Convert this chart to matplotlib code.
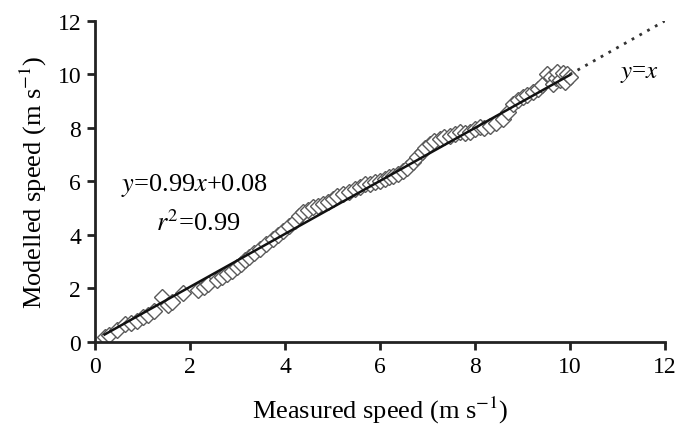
import numpy as np
import matplotlib.pyplot as plt

plt.rcParams["font.family"] = ["Liberation Serif", "DejaVu Serif"]
plt.rcParams["mathtext.fontset"] = "stix"

# measured vs modelled speed (m/s)
measured = [0.21, 0.30, 0.46, 0.63, 0.75, 0.88, 1.00, 1.12, 1.25, 1.41, 1.54, 1.62,
            1.85, 2.17, 2.30, 2.38, 2.57, 2.68, 2.78, 2.88, 2.99, 3.08, 3.16,
            3.25, 3.35, 3.47, 3.60, 3.75, 3.85, 3.96, 4.08, 4.21, 4.30, 4.38, 4.48,
            4.59, 4.70, 4.80, 4.90, 5.01, 5.10, 5.22, 5.35, 5.47, 5.58, 5.68, 5.80,
            5.90, 6.00, 6.10, 6.20, 6.27, 6.38, 6.48, 6.58, 6.69, 6.78, 6.88, 6.96,
            7.05, 7.15, 7.26, 7.36, 7.47, 7.58, 7.68, 7.80, 7.90, 8.00, 8.10, 8.20,
            8.32, 8.45, 8.59, 8.70, 8.80, 8.90, 9.01, 9.10, 9.22, 9.32, 9.42, 9.52,
            9.60, 9.64, 9.70, 9.73, 9.80, 9.85, 9.90, 9.94, 10.00]
modelled = [0.19, 0.27, 0.45, 0.67, 0.72, 0.80, 0.92, 1.02, 1.15, 1.68, 1.40, 1.50,
            1.82, 1.95, 2.05, 2.15, 2.30, 2.42, 2.55, 2.65, 2.80, 2.92, 3.05,
            3.18, 3.32, 3.48, 3.65, 3.85, 4.00, 4.15, 4.32, 4.52, 4.70, 4.86, 4.95,
            5.05, 5.10, 5.16, 5.25, 5.35, 5.45, 5.53, 5.62, 5.72, 5.80, 5.90, 5.92,
            5.98, 6.02, 6.08, 6.15, 6.20, 6.28, 6.39, 6.52, 6.73, 6.90, 7.10, 7.25,
            7.40, 7.50, 7.59, 7.65, 7.70, 7.78, 7.85, 7.82, 7.85, 7.95, 8.04, 8.00,
            8.07, 8.20, 8.34, 8.60, 8.90, 9.05, 9.16, 9.25, 9.35, 9.45, 9.60, 10.02,
            9.90, 9.64, 9.85, 10.09, 9.80, 10.05, 9.70, 10.00, 9.90]

slope, intercept = 0.99, 0.08
fit_x = [0.2, 10.0]
one_to_one = [10.0, 12.0]

fig = plt.figure(figsize=(6.79, 4.35), dpi=100)
ax = fig.add_axes([0.14, 0.2115, 0.839, 0.738])

ax.plot(measured, modelled, "D", ms=8.5, mfc="white", mec="#5a5a5a", mew=1.0, zorder=2)
ax.plot(fit_x, [slope * v + intercept for v in fit_x], color="#111111", lw=1.8, zorder=3)
ax.plot(one_to_one, one_to_one, color="#333333", lw=2.0, ls=(0, (1, 2.2)), zorder=3)

ax.text(0.55, 5.9, r"$y$=0.99$x$+0.08", fontsize=19, va="center")
ax.text(1.28, 4.5, r"$r^2$=0.99", fontsize=19, va="center")
ax.text(11.05, 10.05, r"$y$=$x$", fontsize=18, va="center")

ax.set_xlim(0, 12)
ax.set_ylim(0, 12)
ax.set_xticks(range(0, 13, 2))
ax.set_yticks(range(0, 13, 2))
for s in ["top", "right"]:
    ax.spines[s].set_visible(False)
for s in ["left", "bottom"]:
    ax.spines[s].set_linewidth(2.0)
    ax.spines[s].set_color("#222222")
ax.tick_params(direction="out", length=6, width=2.0, color="#222222", labelsize=17, pad=4)

ax.set_xlabel(r"Measured speed (m s$^{-1}$)", fontsize=19, labelpad=12)
ax.set_ylabel(r"Modelled speed (m s$^{-1}$)", fontsize=19, labelpad=6)

fig.savefig("out.png", dpi=100)
